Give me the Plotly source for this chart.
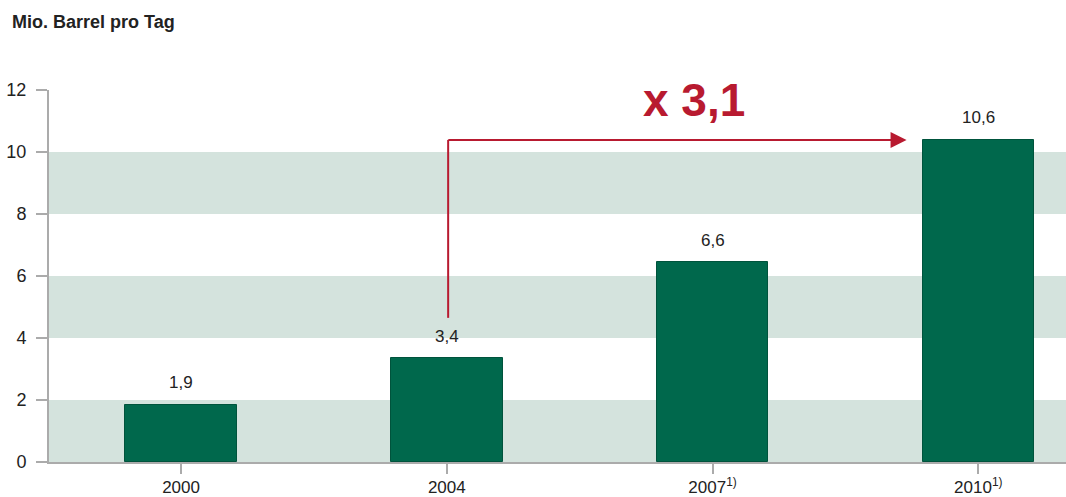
import plotly.graph_objects as go

years = ["2000", "2004", "2007<sup>1)</sup>", "2010<sup>1)</sup>"]
bar_values = [1.84, 3.35, 6.45, 10.39]
value_labels = ["1,9", "3,4", "6,6", "10,6"]
y_ticks = [0, 2, 4, 6, 8, 10, 12]
bands = [(0, 2), (4, 6), (8, 10)]
arrow_start_y = 4.65
arrow_level_y = 10.39
arrow_end_x = 2.73
growth_label = "x 3,1"

GREEN = "#00684c"
BAND = "#d4e3dd"
RED = "#b81a30"
TXT = "#222222"
AXIS = "#ababab"
FONT = "Liberation Sans, Arial, Helvetica"

xpos = list(range(len(years)))

fig = go.Figure()
fig.add_trace(go.Bar(
    x=xpos, y=bar_values, width=0.42,
    marker=dict(color=GREEN, line=dict(color="#00533c", width=1)),
    hoverinfo="skip",
))

for xi, v, lab in zip(xpos, bar_values, value_labels):
    fig.add_annotation(x=xi, y=v, xref="x", yref="y", text=lab, showarrow=False,
                       yanchor="middle", yshift=22,
                       font=dict(size=17, color=TXT, family=FONT))

shapes = []
for y0, y1 in bands:
    shapes.append(dict(type="rect", xref="paper", yref="y", x0=0, x1=1, y0=y0, y1=y1,
                       fillcolor=BAND, line=dict(width=0), layer="below"))
shapes.append(dict(type="line", xref="x", yref="y", x0=1.005, x1=1.005, y0=arrow_start_y, y1=arrow_level_y,
                   line=dict(color=RED, width=2)))
fig.update_layout(shapes=shapes)

fig.add_annotation(x=arrow_end_x, y=arrow_level_y, ax=1.0, ay=arrow_level_y, axref="x", ayref="y",
                   xref="x", yref="y", showarrow=True, arrowhead=2, arrowsize=1.6, arrowwidth=2,
                   arrowcolor=RED, text="")
fig.add_annotation(x=1.93, y=11.68, xref="x", yref="y", text="<b>" + growth_label + "</b>",
                   showarrow=False, font=dict(size=46, color=RED, family=FONT))

fig.update_layout(
    width=1066, height=497,
    margin=dict(l=49, r=0, t=90, b=35, autoexpand=False),
    paper_bgcolor="white", plot_bgcolor="white",
    showlegend=False,
    bargap=0,
    font=dict(family=FONT, size=18, color=TXT),
    title=dict(text="<b>Mio. Barrel pro Tag</b>", x=12/1066, xanchor="left", y=1-22/497, yanchor="middle",
               font=dict(size=18, color=TXT)),
    xaxis=dict(range=[-0.497, 3.33], tickvals=xpos, ticktext=years, showgrid=False, zeroline=False,
               showline=True, linecolor=AXIS, linewidth=2, ticks="outside", ticklen=10, tickcolor=AXIS,
               tickwidth=2, tickfont=dict(size=17, color=TXT), automargin=False,
               ticklabelstandoff=-1),
    yaxis=dict(range=[0, 12], tickvals=y_ticks, showgrid=False, zeroline=False,
               showline=True, linecolor=AXIS, linewidth=2, ticks="outside", ticklen=11, tickcolor=AXIS,
               tickwidth=2, tickfont=dict(size=18, color=TXT), ticklabelstandoff=6, automargin=False),
)

fig.write_html("out.html")
